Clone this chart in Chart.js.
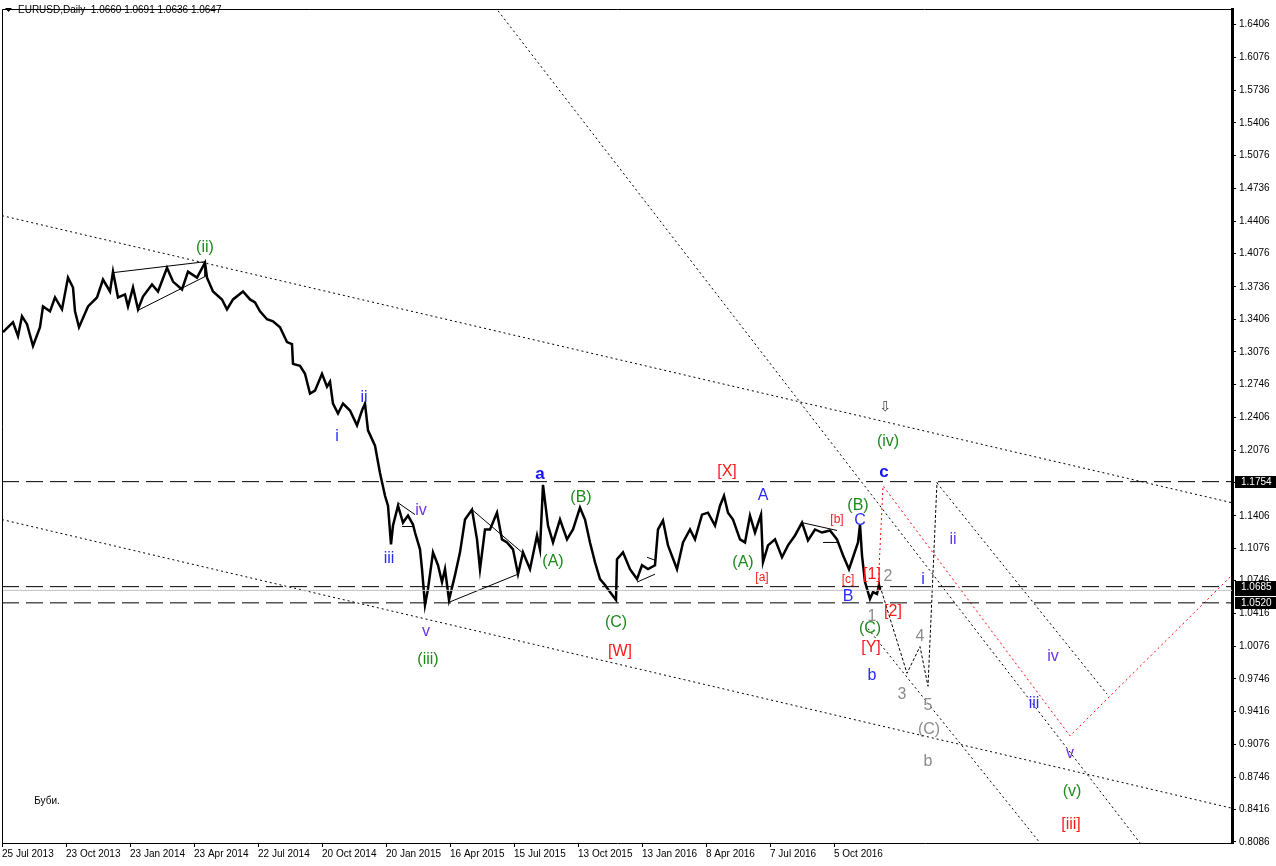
<!DOCTYPE html>
<html>
<head>
<meta charset="utf-8">
<script src="https://cdn.jsdelivr.net/npm/chart.js@4"></script>
<style>
html, body { margin: 0; padding: 0; background: #fff; }
</style>
</head>
<body>
<canvas id="chart" width="1276" height="866"></canvas>
<script>
// EURUSD daily, bar number from 25 Jul 2013 and close
var bars = [1, 11, 16, 20, 25, 31, 38, 41, 48, 53, 60, 66, 71, 73, 77, 86, 95, 101, 108, 111,
  116, 123, 126, 131, 136, 141, 150, 156, 165, 171, 180, 186, 195, 203, 205, 211, 220, 225, 231, 241,
  248, 253, 258, 265, 271, 278, 285, 290, 291, 298, 303, 308, 313, 320, 325, 328, 331, 336, 341, 348,
  355, 360, 363, 366, 373, 378, 383, 386, 389, 391, 396, 401, 406, 411, 413, 418, 420, 423, 426, 431,
  436, 440, 443, 447, 453, 458, 463, 470, 475, 478, 483, 488, 495, 500, 505, 511, 516, 521, 528, 535,
  538, 541, 546, 551, 558, 565, 571, 578, 583, 588, 593, 598, 603, 608, 614, 615, 621, 628, 635, 640,
  646, 653, 656, 661, 666, 675, 681, 688, 693, 700, 706, 713, 718, 722, 726, 731, 738, 743, 748, 753,
  759, 761, 766, 773, 780, 786, 793, 800, 806, 813, 820, 828, 835, 841, 847, 851, 856, 858, 860, 863,
  868, 871, 875, 877, 878];
var closes = [1.3276, 1.3377, 1.3236, 1.3438, 1.3357, 1.3135, 1.3326, 1.3538, 1.3488, 1.3629, 1.3508, 1.3831, 1.3730, 1.3488, 1.3326, 1.3538, 1.3629, 1.3811, 1.3690, 1.3892,
  1.3629, 1.3660, 1.3538, 1.3730, 1.3508, 1.3639, 1.3761, 1.3690, 1.3932, 1.3791, 1.3710, 1.3892, 1.3831, 1.3983, 1.3831, 1.3690, 1.3609, 1.3508, 1.3609, 1.3690,
  1.3609, 1.3579, 1.3488, 1.3407, 1.3387, 1.3326, 1.3175, 1.3155, 1.2953, 1.2933, 1.2852, 1.2650, 1.2680, 1.2852, 1.2721, 1.2771, 1.2549, 1.2448, 1.2549, 1.2478,
  1.2327, 1.2478, 1.2549, 1.2276, 1.2120, 1.1842, 1.1610, 1.1509, 1.1115, 1.1307, 1.1509, 1.1337, 1.1408, 1.1317, 1.1236, 1.1065, 1.0863, 1.0499, 1.0661, 1.1034,
  1.0903, 1.0731, 1.0863, 1.0550, 1.0802, 1.1034, 1.1368, 1.1469, 1.1166, 1.0863, 1.1267, 1.1267, 1.1438, 1.1166, 1.1135, 1.1065, 1.0812, 1.1034, 1.0863, 1.1206,
  1.1065, 1.1721, 1.1307, 1.1135, 1.1368, 1.1166, 1.1267, 1.1489, 1.1368, 1.1135, 1.0933, 1.0762, 1.0701, 1.0630, 1.0550, 1.0964, 1.1034, 1.0863, 1.0762, 1.0903,
  1.0863, 1.0903, 1.1267, 1.1358, 1.1105, 1.0863, 1.1135, 1.1267, 1.1166, 1.1418, 1.1438, 1.1307, 1.1509, 1.1610, 1.1438, 1.1368, 1.1166, 1.1135, 1.1408, 1.1236,
  1.1418, 1.0933, 1.1105, 1.1166, 1.0984, 1.1105, 1.1206, 1.1337, 1.1156, 1.1267, 1.1236, 1.1257, 1.1166, 1.1004, 1.0863, 1.0984, 1.1135, 1.1317, 1.1004, 1.0731,
  1.0560, 1.0630, 1.0610, 1.0701, 1.0647];

var dateTicks = [0, 64, 128, 192, 256, 320, 384, 448, 512, 576, 640, 704, 768, 832];
var dateLabels = ["25 Jul 2013", "23 Oct 2013", "23 Jan 2014", "23 Apr 2014", "22 Jul 2014", "20 Oct 2014", "20 Jan 2015",
  "16 Apr 2015", "15 Jul 2015", "13 Oct 2015", "13 Jan 2016", "8 Apr 2016", "7 Jul 2016", "5 Oct 2016"];
var priceTicks = [1.6406, 1.6076, 1.5736, 1.5406, 1.5076, 1.4736, 1.4406, 1.4076, 1.3736, 1.3406, 1.3076, 1.2746, 1.2406,
  1.2076, 1.1746, 1.1406, 1.1076, 1.0746, 1.0416, 1.0076, 0.9746, 0.9416, 0.9076, 0.8746, 0.8416, 0.8086];

var levels = [1.1754, 1.0685, 1.0520];
var lastPrice = 1.0647;
var ohlc = ["1.0660", "1.0691", "1.0636", "1.0647"];

// drawn objects, [bar, price]
var lineU = [[0, 1.4462], [1230, 1.1539]];
var lineL = [[0, 1.1368], [1230, 0.8429]];
var lineA = [[493, 1.6588], [1138, 0.8076]];
var lineC = [[866, 1.0257], [1038, 0.8076]];
var lineD = [[935, 1.1741], [1105, 0.9591]];
var wavePath = [[878, 1.0691], [905, 0.9803], [918, 1.0075], [926, 0.9671], [935, 1.1751]];
var redPath = [[876, 1.0651], [881, 1.1711], [1068, 0.9166], [1230, 1.0802]];
var thinLines = [
  [[111, 1.3882], [203, 1.3993]], [[136, 1.3498], [203, 1.3842]], [[203, 1.3993], [203, 1.3842]],
  [[396, 1.1539], [413, 1.1418]], [[400, 1.1297], [411, 1.1297]],
  [[470, 1.1469], [520, 1.1034]], [[448, 1.0530], [516, 1.0812]],
  [[635, 1.0731], [653, 1.0812]], [[645, 1.0984], [653, 1.0954]],
  [[800, 1.1337], [835, 1.1257]], [[821, 1.1135], [835, 1.1135]]
];

var waveLabels = [
  ["(ii)", 203, 1.4134, "green"], ["i", 335, 1.2216, "blue"], ["ii", 362, 1.2610, "blue"],
  ["iii", 387, 1.0974, "blue"], ["iv", 419, 1.1459, "purple"], ["v", 424, 1.0227, "purple"],
  ["(iii)", 426, 0.9944, "green"], ["a", 538, 1.1832, "bold"], ["(B)", 579, 1.1590, "green"],
  ["(A)", 551, 1.0944, "green"], ["(C)", 614, 1.0318, "green"], ["[W]", 618, 1.0025, "red"],
  ["[X]", 725, 1.1852, "red"], ["A", 761, 1.1610, "blue"], ["(A)", 741, 1.0933, "green"],
  ["[a]", 760, 1.0772, "redSmall"], ["[b]", 835, 1.1368, "redSmall"], ["(B)", 856, 1.1509, "green"],
  ["C", 858, 1.1358, "blue"], ["[c]", 846, 1.0752, "redSmall"], ["B", 846, 1.0580, "blue"],
  ["[1]", 870, 1.0812, "red"], ["2", 886, 1.0792, "gray"], ["[2]", 891, 1.0429, "red"],
  ["1", 870, 1.0378, "gray"], ["(C)", 868, 1.0257, "green"], ["[Y]", 869, 1.0065, "red"],
  ["b", 870, 0.9782, "blue"], ["3", 900, 0.9581, "gray"], ["4", 918, 1.0176, "gray"],
  ["5", 926, 0.9469, "gray"], ["(C)", 927, 0.9227, "gray"], ["b", 926, 0.8904, "gray"],
  ["c", 882, 1.1852, "bold"], ["(iv)", 886, 1.2165, "green"], ["\u21e9", 883, 1.2509, "arrow"],
  ["i", 921, 1.0752, "blue"], ["ii", 951, 1.1166, "purple"], ["iv", 1051, 0.9974, "purple"],
  ["iii", 1032, 0.9490, "blue"], ["v", 1068, 0.8985, "purple"], ["(v)", 1070, 0.8601, "green"],
  ["[iii]", 1069, 0.8258, "red"], ["\u0411\u0443\u0431\u0438.", 45, 0.8500, "note"]
];

var FAM = "'Liberation Sans', Arial, sans-serif";
var labelStyle = {
  green: { color: "#1d8a1d", font: "16px " + FAM },
  blue: { color: "#2b2bff", font: "16px " + FAM },
  bold: { color: "#1010ff", font: "bold 17px " + FAM },
  purple: { color: "#6a35e6", font: "16px " + FAM },
  red: { color: "#ff1a1a", font: "16px " + FAM },
  redSmall: { color: "#ff1a1a", font: "12px " + FAM },
  gray: { color: "#8c8c8c", font: "16px " + FAM },
  arrow: { color: "#444", font: "14px 'DejaVu Sans', sans-serif" },
  note: { color: "#000", font: "10px " + FAM }
};

function pts(arr) { return arr.map(function (p) { return { x: p[0], y: p[1] }; }); }

var datasets = [];
levels.forEach(function (v) {
  datasets.push({ data: pts([[0, v], [1230, v]]), borderColor: "#000", borderWidth: 1, borderDash: [17, 7] });
});
datasets.push({ data: pts([[0, lastPrice], [1230, lastPrice]]), borderColor: "#c0c0c0", borderWidth: 1 });
[lineU, lineL, lineA, lineC, lineD].forEach(function (l) {
  datasets.push({ data: pts(l), borderColor: "#000", borderWidth: 1, borderDash: [2, 3] });
});
datasets.push({ data: pts(wavePath), borderColor: "#000", borderWidth: 1, borderDash: [3, 2] });
datasets.push({ data: pts(redPath), borderColor: "#ff0000", borderWidth: 1, borderDash: [2, 3] });
thinLines.forEach(function (l) {
  datasets.push({ data: pts(l), borderColor: "#000", borderWidth: 1 });
});
datasets.push({
  data: bars.map(function (b, i) { return { x: b, y: closes[i] }; }),
  borderColor: "#000", borderWidth: 2.5
});

var decorPlugin = {
  id: "decor",
  afterDatasetsDraw: function (chart) {
    var ctx = chart.ctx, xs = chart.scales.x, ys = chart.scales.y;
    ctx.save();
    ctx.textAlign = "center";
    ctx.textBaseline = "middle";
    waveLabels.forEach(function (l) {
      var st = labelStyle[l[3]];
      ctx.font = st.font;
      ctx.fillStyle = st.color;
      ctx.fillText(l[0], xs.getPixelForValue(l[1]), ys.getPixelForValue(l[2]));
    });
    ctx.restore();
  },
  afterDraw: function (chart) {
    var ctx = chart.ctx, a = chart.chartArea, ys = chart.scales.y;
    ctx.save();
    // frame left / top
    ctx.strokeStyle = "#000";
    ctx.lineWidth = 1;
    ctx.beginPath();
    ctx.moveTo(a.left + 0.5, a.bottom);
    ctx.lineTo(a.left + 0.5, a.top + 0.5);
    ctx.lineTo(a.right, a.top + 0.5);
    ctx.stroke();
    // price boxes on the axis
    ctx.font = "10px " + FAM;
    ctx.textBaseline = "middle";
    ctx.textAlign = "left";
    [lastPrice, levels[1], levels[2], levels[0]].forEach(function (v) {
      var y = Math.round(ys.getPixelForValue(v));
      ctx.fillStyle = "#000";
      ctx.fillRect(a.right + 3, y - 6, chart.width - a.right - 3, 12);
      ctx.fillStyle = "#fff";
      ctx.fillText(v.toFixed(4), a.right + 9, y);
    });
    // title
    ctx.fillStyle = "#000";
    ctx.beginPath();
    ctx.moveTo(5, 8); ctx.lineTo(12, 8); ctx.lineTo(8.5, 12); ctx.closePath();
    ctx.fill();
    ctx.fillText("EURUSD,Daily  " + ohlc.join(" "), 18, 10);
    ctx.restore();
  }
};

new Chart(document.getElementById("chart"), {
  type: "line",
  data: { datasets: datasets },
  plugins: [decorPlugin],
  options: {
    responsive: false,
    animation: false,
    events: [],
    layout: { padding: { left: 2, top: 2, right: 0, bottom: 0 } },
    plugins: { legend: { display: false }, tooltip: { enabled: false } },
    elements: { point: { radius: 0 }, line: { tension: 0, fill: false } },
    scales: {
      x: {
        type: "linear", min: 0, max: 1230,
        afterBuildTicks: function (s) { s.ticks = dateTicks.map(function (v) { return { value: v }; }); },
        afterFit: function (s) { s.height = 23; },
        ticks: {
          autoSkip: false, maxRotation: 0, align: "start", padding: 1, color: "#000",
          font: { family: FAM, size: 10 },
          callback: function (v, i) { return dateLabels[i]; }
        },
        grid: { drawOnChartArea: false, drawTicks: true, tickLength: 4, color: "#000" },
        border: { display: true, color: "#000", width: 1 }
      },
      y: {
        type: "linear", position: "right", min: 0.8075, max: 1.6566,
        afterBuildTicks: function (s) { s.ticks = priceTicks.map(function (v) { return { value: v }; }); },
        afterFit: function (s) { s.width = 44; },
        ticks: {
          autoSkip: false, padding: 3, color: "#000",
          font: { family: FAM, size: 10 },
          callback: function (v) { return v.toFixed(4); }
        },
        grid: { drawOnChartArea: false, drawTicks: true, tickLength: 4, color: "#000" },
        border: { display: true, color: "#000", width: 3 }
      }
    }
  }
});
</script>
</body>
</html>
